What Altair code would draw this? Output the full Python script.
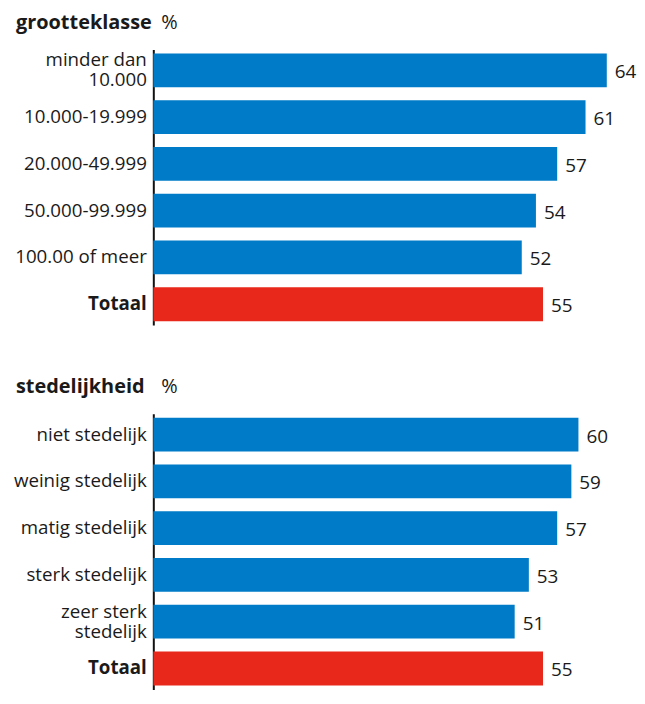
import altair as alt
import pandas as pd

# ---- data ----
grootte_cats = ["minder dan|10.000", "10.000-19.999", "20.000-49.999",
                "50.000-99.999", "100.00 of meer", "Totaal"]
grootte_vals = [64, 61, 57, 54, 52, 55]

sted_cats = ["niet stedelijk", "weinig stedelijk", "matig stedelijk",
             "sterk stedelijk", "zeer sterk|stedelijk", "Totaal"]
sted_vals = [60, 59, 57, 53, 51, 55]

titles = ["grootteklasse", "stedelijkheid"]
unit = "%"

BLUE = "#007BC7"
RED = "#E8281A"
FONT = "Open Sans"
TXT = "#1a1a1a"


def panel(cats, vals, title):
    df = pd.DataFrame({"cat": cats, "val": vals})
    y = alt.Y(
        "cat:N",
        sort=cats,
        scale=alt.Scale(paddingInner=0.2766, paddingOuter=0.085),
        axis=alt.Axis(
            title=None,
            ticks=False,
            grid=False,
            domainColor="#111111",
            domainWidth=2,
            labelFont=FONT,
            labelFontSize=18.8,
            labelColor=TXT,
            labelPadding=7,
            labelLineHeight=20,
            labelExpr="split(datum.label, '|')",
            labelOffset={"condition": {"test": "indexof(datum.value, '|') >= 0", "value": -10},
                         "value": 0},
            labelFontWeight={"condition": {"test": "datum.value == 'Totaal'", "value": "bold"},
                             "value": "normal"},
            minExtent=141,
            maxExtent=141,
        ),
    )
    x = alt.X("val:Q", scale=alt.Scale(domain=[0, 67], zero=True, nice=False), axis=None)
    base = alt.Chart(df)
    bars = base.mark_bar().encode(
        y=y,
        x=x,
        color=alt.condition(alt.datum.cat == "Totaal", alt.value(RED), alt.value(BLUE)),
    )
    labels = base.mark_text(
        align="left", baseline="middle", dx=8, dy=2, fontSize=19, font=FONT, color=TXT
    ).encode(y=y, x=x, text=alt.Text("val:Q"))

    tdf = pd.DataFrame({"t": [title], "u": [unit]})
    t_main = alt.Chart(tdf).mark_text(
        align="left", baseline="alphabetic", fontSize=20, fontWeight="bold", font=FONT, color=TXT
    ).encode(text="t:N", x=alt.value(-138), y=alt.value(-21))
    t_unit = alt.Chart(tdf).mark_text(
        align="left", baseline="alphabetic", fontSize=20, font=FONT, color=TXT
    ).encode(text="u:N", x=alt.value(8), y=alt.value(-21))

    return alt.layer(bars, labels, t_main, t_unit).properties(width=477, height=277)


chart = alt.vconcat(
    panel(grootte_cats, grootte_vals, titles[0]),
    panel(sted_cats, sted_vals, titles[1]),
    spacing=52,
).properties(
    padding={"left": 5, "top": 3, "right": 0, "bottom": 0},
    background="white",
).configure_view(stroke=None)

chart.save("out.html", embed_options={"renderer": "svg", "actions": False})
